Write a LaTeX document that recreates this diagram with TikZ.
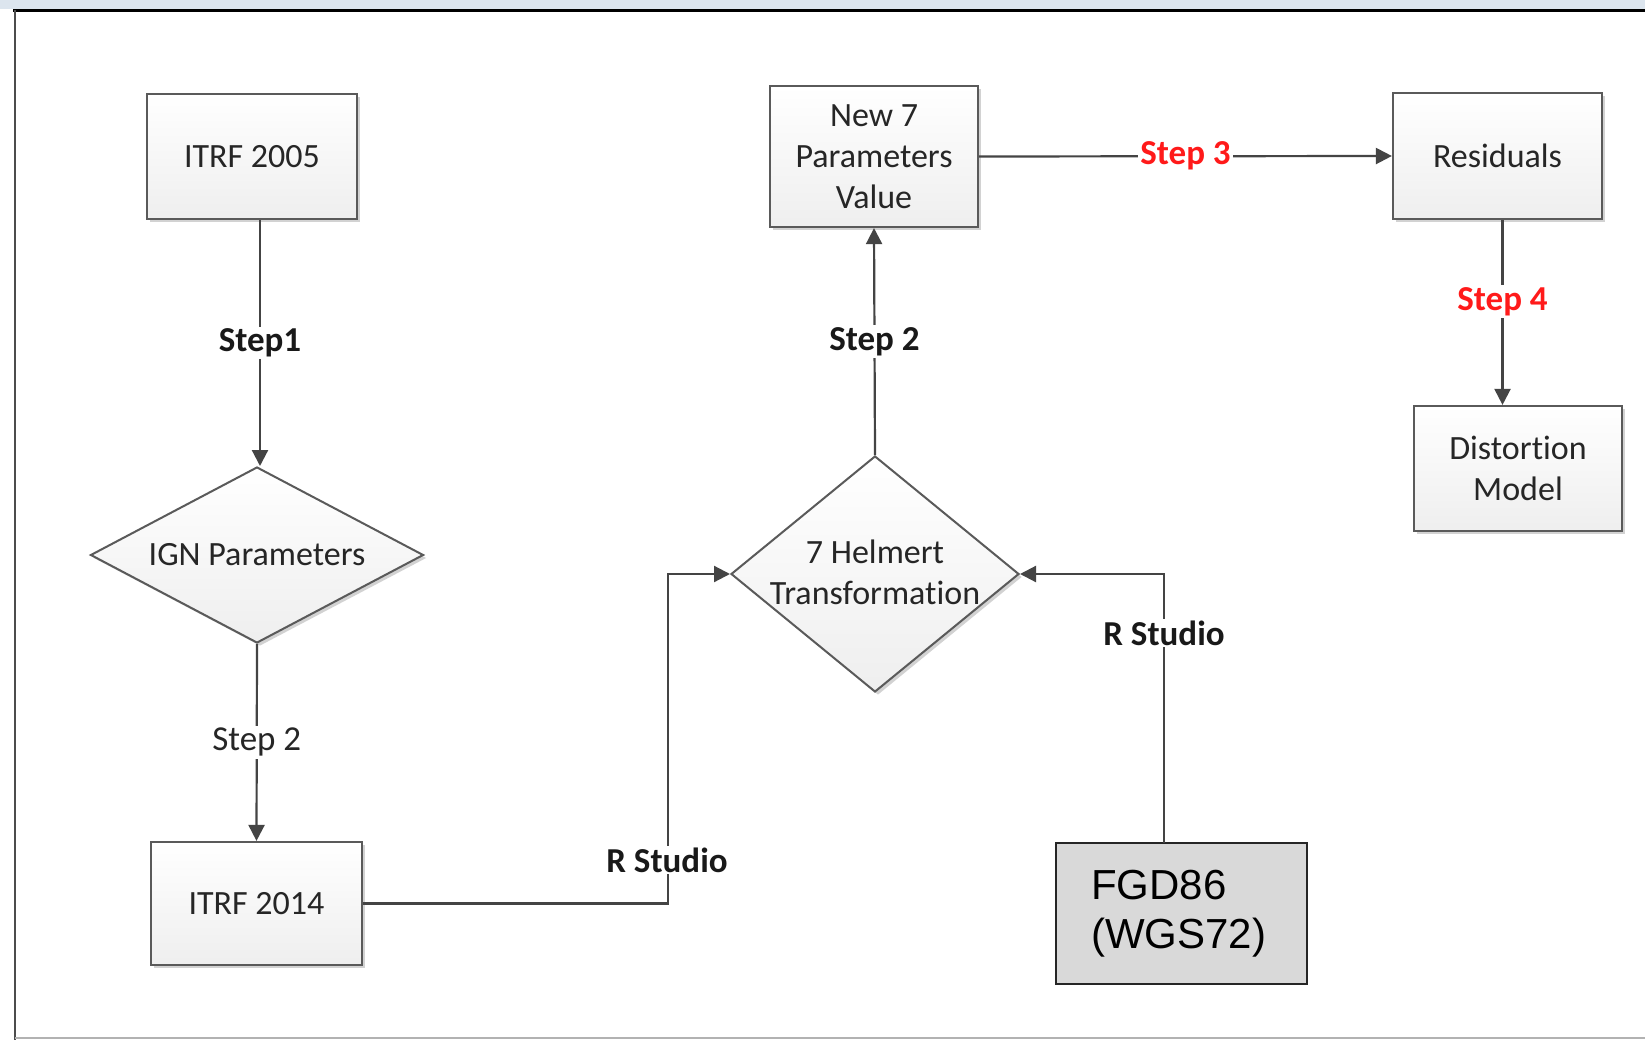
\documentclass[tikz,border=0pt]{standalone}
\usepackage{fontspec}
\setmainfont{Carlito}[Ligatures=NoCommon,RawFeature={-liga;-calt;-dlig}]
\newfontfamily\arialf{Liberation Sans}
\usetikzlibrary{arrows.meta,shapes.geometric,shadows,calc}
\definecolor{boxline}{HTML}{5A5A5A}
\definecolor{lineclr}{HTML}{444444}
\definecolor{txt}{HTML}{262626}
\definecolor{redlab}{HTML}{FF1A1A}
\definecolor{fgdfill}{HTML}{D9D9D9}
\definecolor{chrome}{HTML}{DCE5EE}
\begin{document}
\begin{tikzpicture}[x=1pt,y=-1pt,
  shadowed/.style={drop shadow={shadow xshift=3pt,shadow yshift=-3pt,fill=black!35,opacity=0.5}},
  boxn/.style={draw=boxline, line width=2.2pt, top color=white, bottom color=gray!13, shadowed,
    font=\fontsize{34}{41}\selectfont, text=txt, align=center, inner sep=0pt},
  dia/.style={diamond, draw=boxline, line width=2pt, top color=white, bottom color=gray!13,
    inner sep=0pt, shadowed},
  diatext/.style={font=\fontsize{34}{41}\selectfont, text=txt, align=center, inner sep=0pt},
  conn/.style={draw=lineclr, line width=2.2pt},
  arr/.style={conn, -{Triangle[length=16pt,width=16pt]}},
  lab/.style={fill=white, inner sep=2pt, font=\fontsize{35}{42}\selectfont\bfseries, text=black!90},
  labn/.style={fill=white, inner sep=2pt, font=\fontsize{35}{42}\selectfont, text=txt},
]
\useasboundingbox (0,0) rectangle (1645,1040);
\fill[white] (0,0) rectangle (1645,1040);
% window frame
\fill[chrome] (0,0) rectangle (1645,9);
\draw[black, line width=3pt] (13,11) -- (1645,11);
\draw[black!70, line width=2pt] (15,10) -- (15,1040);
\draw[black!30, line width=1.5pt] (15,1038) -- (1645,1038);

% nodes
\node[boxn, minimum width=210pt, minimum height=125pt] (itrf05) at (252,156.5) {ITRF 2005};
\node[dia, minimum width=333pt, minimum height=176pt] (ign) at (257,555) {};
\node[diatext] (igntext) at (ign.center) {IGN Parameters};
\node[boxn, minimum width=211pt, minimum height=123pt] (itrf14) at (256.5,903.5) {ITRF 2014};
\node[dia, minimum width=288pt, minimum height=236pt] (helm) at (875,574) {};
\node[diatext] (helmtext) at (875,572) {7 Helmert\\Transformat\kern0pt ion};
\node[boxn, minimum width=208pt, minimum height=141pt] (new7) at (874,156.5) {New 7\\Parameters\\Value};
\node[boxn, minimum width=209pt, minimum height=126pt] (resid) at (1497.5,156) {Residuals};
\node[boxn, minimum width=208pt, minimum height=125pt] (dist) at (1518,468.5) {Distort\kern0pt ion\\Model};
\node[draw=black!85, line width=2pt, fill=fgdfill, minimum width=251pt, minimum height=141pt, inner sep=0pt] (fgd) at (1181.5,913.5) {};
\node[anchor=west, align=left, inner sep=0pt, font=\arialf\fontsize{42}{49}\selectfont, text=black] (fgdtext) at (1091,914) {FGD86\\(WGS72)};

% coordinates for bends / free ends
\coordinate (c1) at (668,903.5);
\coordinate (c2) at (1164,843);

% connectors
\draw[arr] ([xshift=3pt]itrf05.south -| ign.north) -- node[lab] (s1) {Step1} ([xshift=3pt]ign.north);
\draw[arr] (ign.south) -- node[labn] (s2a) {Step 2} (itrf14.north);
\draw[arr] (itrf14.east) -- (c1) |- (helm.west);
\node[lab] (rs1) at (667,860) {R Studio};
\draw[arr] (c2) |- (helm.east);
\node[lab] (rs2) at (1164,633) {R Studio};
\draw[arr] (helm.north) -- node[lab] (s2b) {Step 2} (new7.south);
\draw[arr] (new7.east) -- node[lab, text=redlab] (s3) {Step 3} (resid.west);
\draw[arr] ([xshift=5pt]resid.south) -- node[lab, text=redlab, pos=0.44] (s4) {Step 4} ([xshift=5pt]resid.south |- dist.north);
\end{tikzpicture}
\end{document}
